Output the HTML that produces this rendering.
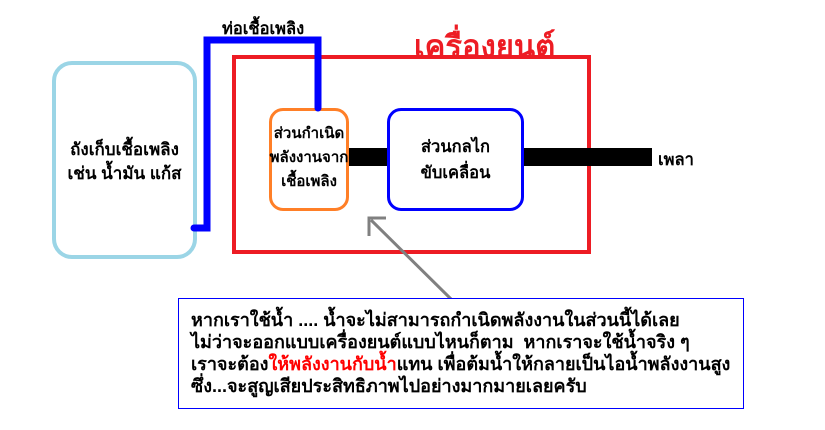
<!DOCTYPE html>
<html><head><meta charset="utf-8"><style>
body{margin:0;width:825px;height:430px;background:#fff;overflow:hidden;position:relative;font-family:"Liberation Sans","Noto Sans CJK SC","WenQuanYi Zen Hei",sans-serif;}
.a{position:absolute;box-sizing:border-box;}
.t{position:absolute;color:#000;font-size:15px;white-space:nowrap;font-weight:bold;}
</style></head><body>
<div class="a" style="left:52px;top:61px;width:145px;height:198px;border:4px solid #9bd5e6;border-radius:20px;"></div>
<div class="t" style="left:52px;top:138px;width:145px;text-align:center;line-height:24px;font-size:17px;">ถังเก็บเชื้อเพลิง<br>เช่น น้ำมัน แก้ส</div>
<div class="a" style="left:232px;top:55px;width:359px;height:199px;border:4px solid #ed1c24;"></div>
<div class="t" style="left:414px;top:21px;font-size:31px;color:#ed1c24;">เครื่องยนต์</div>
<div class="a" style="left:346px;top:148px;width:43px;height:18px;background:#000;"></div>
<div class="a" style="left:522px;top:148px;width:130px;height:18px;background:#000;"></div>
<div class="t" style="left:658px;top:147px;font-size:16.5px;">เพลา</div>
<div class="a" style="left:269px;top:108px;width:80px;height:103px;border:3px solid #ff7f27;border-radius:14px;background:#fff;"></div>
<div class="t" style="left:262px;top:122px;width:94px;text-align:center;line-height:24px;font-size:15px;">ส่วนกำเนิด<br>พลังงานจาก<br>เชื้อเพลิง</div>
<div class="a" style="left:387px;top:108px;width:137px;height:103px;border:3px solid #0000ff;border-radius:14px;background:#fff;"></div>
<div class="t" style="left:387px;top:134px;width:137px;text-align:center;line-height:26px;font-size:16.5px;">ส่วนกลไก<br>ขับเคลื่อน</div>
<svg class="a" style="left:0;top:0" width="825" height="430">
<polyline points="194,228 207,228 207,40 318,40 318,108" fill="none" stroke="#0000ff" stroke-width="7" stroke-linecap="round"/>
<line x1="452" y1="300" x2="371" y2="220" stroke="#808080" stroke-width="3"/>
<polyline points="369,236 369,218 386,218" fill="none" stroke="#808080" stroke-width="3"/>
</svg>
<div class="t" style="left:222px;top:16px;font-size:16.5px;">ท่อเชื้อเพลิง</div>
<div class="a" style="left:178px;top:298px;width:566px;height:111px;border:1px solid #0000ff;background:#fff;"></div>
<div class="t" style="left:191px;top:309px;line-height:22px;font-size:18px;">หากเราใช้น้ำ .... น้ำจะไม่สามารถกำเนิดพลังงานในส่วนนี้ได้เลย<br>ไม่ว่าจะออกแบบเครื่องยนต์แบบไหนก็ตาม&nbsp; หากเราจะใช้น้ำจริง ๆ<br>เราจะต้อง<span style="color:#ff0000">ให้พลังงานกับน้ำ</span>แทน เพื่อต้มน้ำให้กลายเป็นไอน้ำพลังงานสูง<br>ซึ่ง...จะสูญเสียประสิทธิภาพไปอย่างมากมายเลยครับ</div>
</body></html>
